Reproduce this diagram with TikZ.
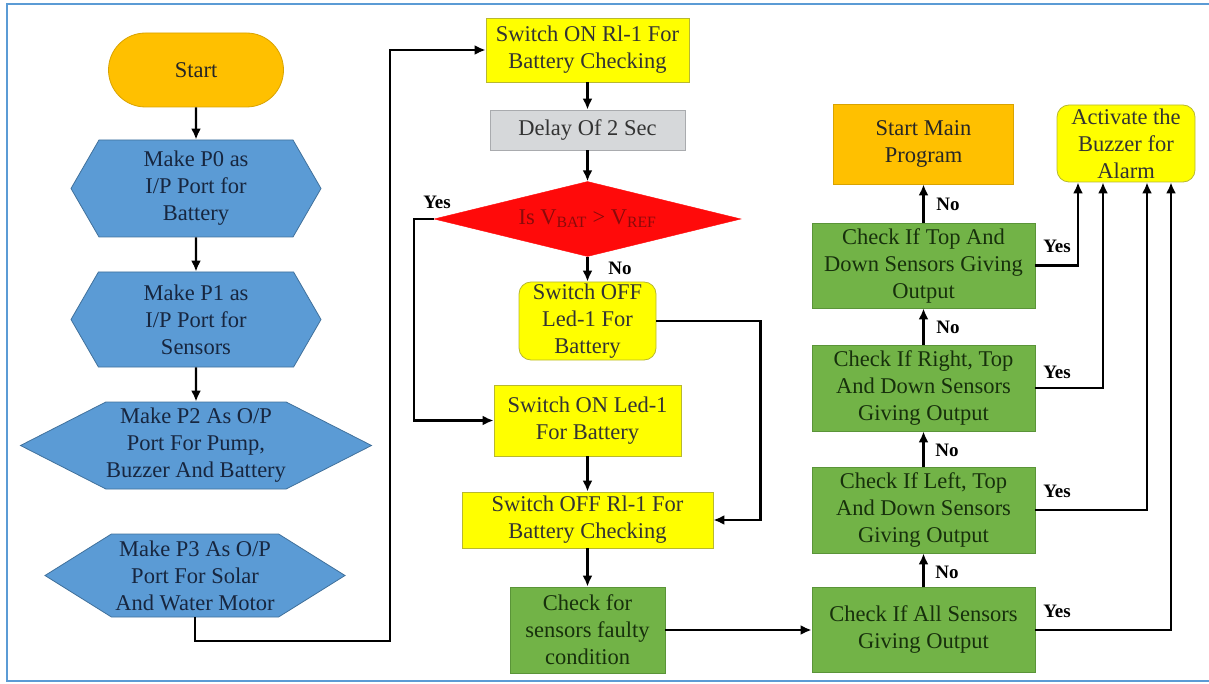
\documentclass[tikz,border=0pt]{standalone}
\usepackage{fontspec}
\setmainfont{Liberation Serif}
\usetikzlibrary{arrows.meta,shapes.geometric,shapes.symbols,shapes.misc}

\definecolor{framecol}{HTML}{5B9BD5}
\definecolor{startorange}{HTML}{FFC000}
\definecolor{orangeline}{HTML}{D9A300}
\definecolor{portblue}{HTML}{5B9BD5}
\definecolor{portline}{HTML}{41719C}
\definecolor{portink}{HTML}{17263F}
\definecolor{lampyellow}{HTML}{FFFF00}
\definecolor{yellowline}{HTML}{B8B830}
\definecolor{delaygrey}{HTML}{D6D8DA}
\definecolor{greyline}{HTML}{A9ABAE}
\definecolor{testred}{HTML}{FF0A0A}
\definecolor{redink}{HTML}{8A0A0A}
\definecolor{sensegreen}{HTML}{72B347}
\definecolor{greenline}{HTML}{5A9438}
\definecolor{greenink}{HTML}{17300C}

\tikzset{
  base/.style={inner sep=0pt, align=center, font=\fontsize{22.5}{27}\selectfont},
  terminal/.style={base, rounded rectangle, fill=startorange, draw=orangeline, line width=0.8pt, text=black!85},
  portstep/.style={base, signal, signal to=east and west, fill=portblue, draw=portline, line width=0.8pt, text=portink},
  lampbox/.style={base, rectangle, fill=lampyellow, draw=yellowline, line width=0.8pt, text=black!80},
  lampround/.style={lampbox, rounded corners=12pt},
  waitbox/.style={base, rectangle, fill=delaygrey, draw=greyline, line width=0.8pt, text=black!80},
  testbox/.style={base, diamond, aspect=4, fill=testred, draw=testred, text=redink},
  sensebox/.style={base, rectangle, fill=sensegreen, draw=greenline, line width=0.8pt, text=greenink},
  mainbox/.style={base, rectangle, fill=startorange, draw=orangeline, line width=0.8pt, text=black!85},
  flow/.style={line width=2.4pt, -{Latex[length=11pt,width=10pt]}},
  answer/.style={inner sep=1pt, font=\fontsize{19}{21}\selectfont\bfseries},
}

\begin{document}
\begin{tikzpicture}[x=1pt, y=-1pt]
\useasboundingbox (0,0) rectangle (1209,684);
\draw[framecol, line width=1.5pt] (1209,4) -- (7,4) -- (7,681) -- (1209,681);

% port set-up column
\node[terminal, minimum width=175pt, minimum height=74pt] (start) at (196,70) {Start};
\node[portstep, minimum width=250pt, minimum height=97pt, signal pointer angle=120] (p0) at (196,188.5) {Make P0 as\\I/P Port for\\Battery};
\node[portstep, minimum width=250pt, minimum height=95pt, signal pointer angle=120] (p1) at (196,319.5) {Make P1 as\\I/P Port for\\Sensors};
\node[portstep, minimum width=351pt, minimum height=87pt, signal pointer angle=54] (p2) at (196,445.5) {Make P2 As O/P\\Port For Pump,\\Buzzer And Battery};
\node[portstep, minimum width=300pt, minimum height=83pt, signal pointer angle=64] (p3) at (195,575.5) {Make P3 As O/P\\Port For Solar\\And Water Motor};

% battery column
\node[lampbox, minimum width=203pt, minimum height=64pt] (rlon) at (587.5,50) {Switch ON Rl-1 For\\Battery Checking};
\node[waitbox, minimum width=195pt, minimum height=40pt] (delay) at (587.5,130) {Delay Of 2 Sec};
\node[testbox, minimum width=307pt, minimum height=75pt] (chk) at (587.5,219) {Is V\textsubscript{BAT} > V\textsubscript{REF}};
\node[lampround, minimum width=137pt, minimum height=78pt] (ledoff) at (587.5,321) {Switch OFF\\Led-1 For\\Battery};
\node[lampbox, minimum width=187pt, minimum height=71pt] (ledon) at (587.5,420.5) {Switch ON Led-1\\For Battery};
\node[lampbox, minimum width=251pt, minimum height=56pt] (rloff) at (587.5,520) {Switch OFF Rl-1 For\\Battery Checking};
\node[sensebox, minimum width=155pt, minimum height=86pt] (faulty) at (587.5,630) {Check for\\sensors faulty\\condition};

% sensor column
\node[sensebox, minimum width=223pt, minimum height=85pt] (allsen) at (923.5,630) {Check If All Sensors\\Giving Output};
\node[sensebox, minimum width=223pt, minimum height=86pt] (leftsen) at (923.5,510) {Check If Left, Top\\And Down Sensors\\Giving Output};
\node[sensebox, minimum width=223pt, minimum height=86pt] (rightsen) at (923.5,388) {Check If Right, Top\\And Down Sensors\\Giving Output};
\node[sensebox, minimum width=223pt, minimum height=85pt] (topdown) at (923.5,265.5) {Check If Top And\\Down Sensors Giving\\Output};
\node[mainbox, minimum width=180pt, minimum height=80pt] (mainprog) at (923.5,144) {Start Main\\Program};
\node[lampround, minimum width=138pt, minimum height=77pt] (buzzer) at (1126,143.5) {Activate the\\Buzzer for\\Alarm};

\coordinate (lowbend) at (390,641);

% connectors
\draw[flow] (start) -- (p0);
\draw[flow] (p0) -- (p1);
\draw[flow] (p1) -- (p2);
\draw[flow] (p3.south) |- (lowbend) |- (rlon.west);
\draw[flow] (rlon) -- (delay);
\draw[flow] (delay) -- (chk);
\draw[flow] (chk.west) -- ++(-20,0) |- (ledon.west);
\draw[flow] (chk) -- (ledoff);
\draw[flow] (ledoff.east) -- ++(104,0) |- (rloff.east);
\draw[flow] (ledon) -- (rloff);
\draw[flow] (rloff) -- (faulty);
\draw[flow] (faulty) -- (allsen);
\draw[flow] (allsen) -- (leftsen);
\draw[flow] (leftsen) -- (rightsen);
\draw[flow] (rightsen) -- (topdown);
\draw[flow] (topdown) -- (mainprog);
\draw[flow] (topdown.east) -| ([xshift=-48pt]buzzer.south);
\draw[flow] (rightsen.east) -| ([xshift=-23pt]buzzer.south);
\draw[flow] (leftsen.east) -| ([xshift=21pt]buzzer.south);
\draw[flow] (allsen.east) -| ([xshift=45pt]buzzer.south);

% yes / no marks
\node[answer] (yesbat) at (437,202) {Yes};
\node[answer] (nobat) at (620,268) {No};
\node[answer] (nomain) at (948,204) {No};
\node[answer] (notop) at (948,327) {No};
\node[answer] (noright) at (947,450) {No};
\node[answer] (noleft) at (947,572) {No};
\node[answer] (yestop) at (1057,246) {Yes};
\node[answer] (yesright) at (1057,372) {Yes};
\node[answer] (yesleft) at (1057,491) {Yes};
\node[answer] (yesall) at (1057,611) {Yes};
\end{tikzpicture}
\end{document}
